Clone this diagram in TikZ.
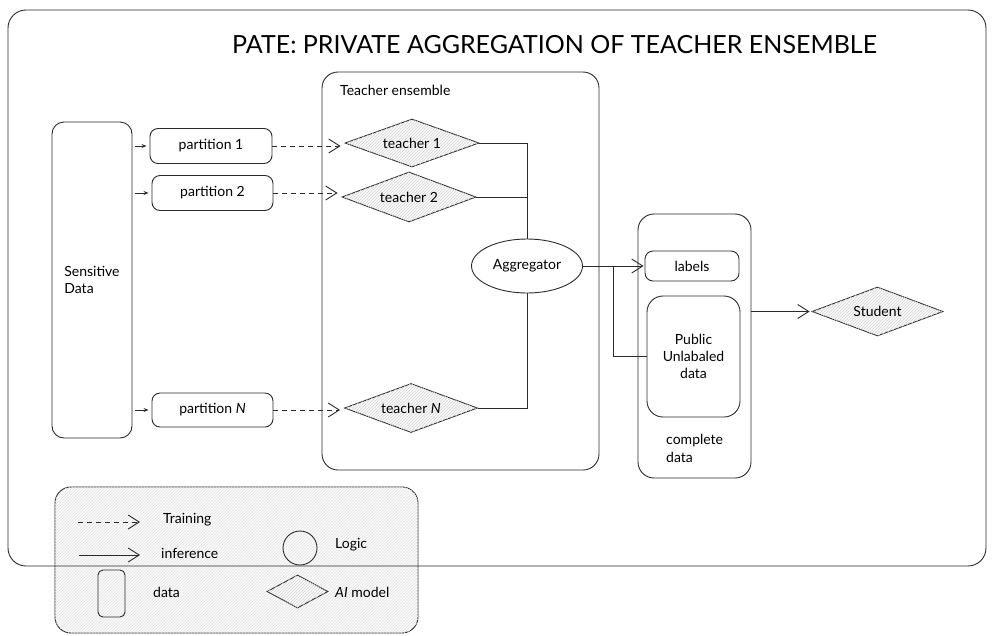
\documentclass[tikz,border=0pt]{standalone}
\usepackage{fontspec}
\setmainfont{Lato}
\usetikzlibrary{arrows.meta,shapes.geometric,patterns}
\definecolor{ink}{HTML}{2B2B2B}
\tikzset{
  ink/.style={draw=ink, line width=0.9pt},
  txt/.style={font=\fontsize{14}{17}\selectfont},
  databox/.style={ink, txt, rounded corners=8pt, inner sep=0pt},
  bigbox/.style={ink, rounded corners=16pt, inner sep=0pt},
  model/.style={diamond, ink, txt, inner sep=0pt, aspect=2.8, fill=gray!5,
     postaction={pattern=north east lines, pattern color=gray!32}},
  logic/.style={ellipse, ink, txt, inner sep=0pt},
  lbl/.style={txt, inner sep=0pt},
  train/.style={ink, dashed, dash pattern=on 5pt off 4pt, -{Straight Barb[length=11pt,width=14pt,line width=0.9pt]}},
  infer/.style={ink, -{Straight Barb[length=11pt,width=14pt,line width=0.9pt]}},
  feed/.style={ink, -{Stealth[length=5pt,width=4pt]}, shorten <=3pt, shorten >=3pt},
  link/.style={ink},
}
\begin{document}
\begin{tikzpicture}[x=1pt,y=-1pt]
\useasboundingbox (0,0) rectangle (992,635);

% legend (drawn first, frame line passes over it)
\node[ink, rounded corners=16pt, minimum width=363pt, minimum height=146pt, inner sep=0pt,
      fill=gray!4, postaction={pattern=north east lines, pattern color=gray!22}]
      (legend) at (236.5,560) {};

% outer frame
\draw[ink, rounded corners=18pt] (8,10) rectangle (986,566);

% title
\node[font=\fontsize{25}{29}\selectfont, inner sep=0pt] (title) at (554.5,45)
  {PATE: PRIVATE AGGREGATION OF TEACHER ENSEMBLE};

% sensitive data
\node[databox, minimum width=80pt, minimum height=316pt, rounded corners=12pt,
      align=left] (sd) at (92,280) {Sensitive\\Data};

% partitions
\node[databox, minimum width=122pt, minimum height=35pt] (p1) at (211,146) {partition 1};
\node[databox, minimum width=121pt, minimum height=35pt] (p2) at (212.5,193) {partition 2};
\node[databox, minimum width=121pt, minimum height=34pt] (pN) at (212.5,410) {partition \textit{N}};

% teacher ensemble
\node[bigbox, minimum width=277pt, minimum height=398pt] (te) at (460.5,271) {};
\node[lbl, anchor=west] (telbl) at (340,90) {Teacher ensemble};

\node[model, minimum width=134pt, minimum height=48pt] (t1) at (412,143) {teacher 1};
\node[model, minimum width=134pt, minimum height=50pt] (t2) at (409,197) {teacher 2};
\node[model, minimum width=133pt, minimum height=49pt] (tN) at (411,408) {teacher \textit{N}};

\node[logic, minimum width=111pt, minimum height=54pt] (agg) at (527,266) {Aggregator};

% complete data
\node[bigbox, minimum width=113pt, minimum height=264pt] (cd) at (694.5,346) {};
\node[databox, minimum width=94pt, minimum height=30pt] (labels) at (692,266) {labels};
\node[databox, rounded corners=16pt, minimum width=93pt, minimum height=121pt, align=center]
   (pub) at (693.5,356.5) {Public\\Unlabaled\\data};
\node[lbl, anchor=north west, align=left, font=\fontsize{14}{18}\selectfont] (cdlbl) at (666,434) {complete\\data};

% student
\node[model, minimum width=131pt, minimum height=49pt] (st) at (877.5,311.5) {Student};

% connectors: sensitive data -> partitions
\draw[feed] (sd.east |- p1.west) -- (p1.west);
\draw[feed] (sd.east |- p2.west) -- (p2.west);
\draw[feed] (sd.east |- pN.west) -- (pN.west);

% training arrows
\draw[train, shorten >=4pt] (p1.east) -- (p1.east -| t1.west);
\draw[train, shorten >=4pt] (p2.east) -- (p2.east -| t2.west);
\draw[train, shorten >=4pt] (pN.east) -- (pN.east -| tN.west);

% teachers -> aggregator
\draw[link] (t1.east) -| (agg.north);
\draw[link] (t2.east) -- (t2.east -| agg.north);
\draw[link] (tN.east) -| (agg.south);

% aggregator -> labels / public
\draw[infer, shorten >=1pt] (agg.east) -- (labels.west);
\coordinate (br) at (613,266);
\draw[link] (br) |- (pub.west);

% complete data -> student
\draw[infer, shorten >=2pt] (cd.east |- st.west) -- (st.west);

% legend contents
\coordinate (ltA) at (78,522);
\coordinate (ltB) at (140,522);
\draw[train] (ltA) -- (ltB);
\node[lbl, anchor=west] (ltrain) at (163,520) {Training};
\coordinate (liA) at (79,555);
\coordinate (liB) at (140,555);
\draw[infer] (liA) -- (liB);
\node[lbl, anchor=west] (linf) at (161,553) {inference};
\node[circle, ink, minimum size=34pt, inner sep=0pt] (lcirc) at (300,548) {};
\node[lbl, anchor=west] (llogic) at (335,545) {Logic};
\node[ink, rounded corners=5pt, minimum width=27pt, minimum height=47pt, inner sep=0pt] (ldata) at (111.5,593.5) {};
\node[lbl, anchor=west] (ldatal) at (153,592) {data};
\node[model, minimum width=61pt, minimum height=33pt] (lmodel) at (297.5,591.5) {};
\node[lbl, anchor=west] (lmodell) at (335,592) {\textit{AI} model};
\end{tikzpicture}
\end{document}
